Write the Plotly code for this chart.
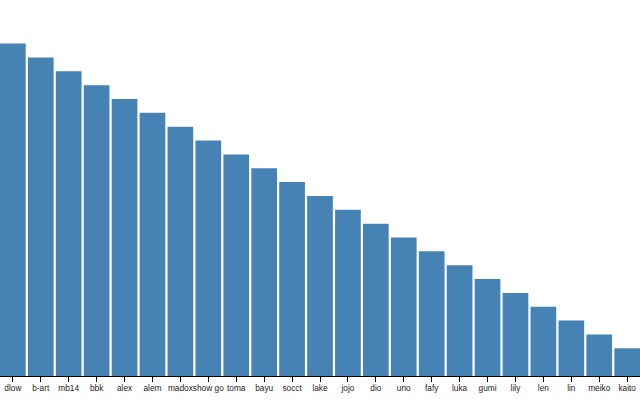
import plotly.graph_objects as go

names = ["dlow", "b-art", "mb14", "bbk", "alex", "alem", "madox", "show go", "toma", "bayu",
         "socct", "lake", "jojo", "dio", "uno", "fafy", "luka", "gumi", "lily", "len",
         "lin", "meiko", "kaito"]
values = [24, 23, 22, 21, 20, 19, 18, 17, 16, 15, 14, 13, 12, 11, 10, 9, 8, 7, 6, 5, 4, 3, 2]

fig = go.Figure(go.Bar(x=names, y=values, marker=dict(color="#4682b4", line=dict(width=0)),
                       hoverinfo="skip"))

fig.update_layout(
    width=640, height=400,
    margin=dict(l=0, r=0, t=0, b=24, autoexpand=False),
    paper_bgcolor="white", plot_bgcolor="white",
    bargap=0.08,
    showlegend=False,
    hovermode=False,
    font=dict(family="Liberation Sans, Arial, sans-serif", size=8, color="#000"),
)
fig.update_xaxes(
    type="category", range=[-0.46, 22.46],
    showline=True, linecolor="#000", linewidth=1,
    ticks="outside", ticklen=5, tickcolor="#000", tickwidth=1,
    showgrid=False, zeroline=False, automargin=False, tickangle=0,
    ticklabelstandoff=-1,
    tickfont=dict(size=8.3, color="#222"),
)
fig.update_yaxes(range=[0, 27.15], visible=False, showgrid=False, zeroline=False, automargin=False)

fig.write_html("out.html", config={"displayModeBar": False, "staticPlot": True},
               post_script="document.body.style.margin='0';document.body.style.overflow='hidden';")
